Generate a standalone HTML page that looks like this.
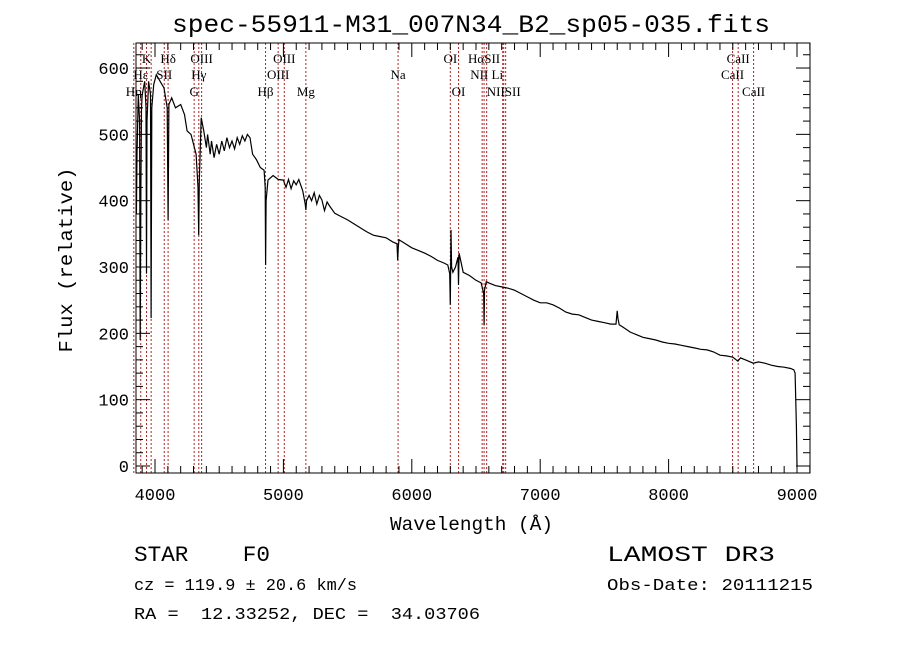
<!DOCTYPE html>
<html><head><meta charset="utf-8"><style>
html,body{margin:0;padding:0;background:#fff;}
svg{display:block;}
text{font-family:"Liberation Mono",monospace;fill:#000;white-space:pre;}
.ll{font-family:"Liberation Serif",serif;font-size:13px;}
</style></head><body>
<svg id="chart" width="900" height="649" viewBox="0 0 900 649">
<rect x="0" y="0" width="900" height="649" fill="#fff"/>
<text x="471" y="32" font-size="25" text-anchor="middle" textLength="598" lengthAdjust="spacingAndGlyphs">spec-55911-M31_007N34_B2_sp05-035.fits</text>
<g id="lines"></g>
<g id="labels"></g>
<g id="axes"></g>
<path id="spec" fill="none" stroke="#000" stroke-width="1.2"/>
<text transform="translate(72,260) rotate(-90)" font-size="19" text-anchor="middle" textLength="185" lengthAdjust="spacingAndGlyphs">Flux (relative)</text>
<text x="390" y="530" font-size="19" textLength="163" lengthAdjust="spacingAndGlyphs">Wavelength (Å)</text>
<text x="134" y="561" font-size="22" textLength="136" lengthAdjust="spacingAndGlyphs">STAR    F0</text>
<text x="134" y="590" font-size="17" textLength="223" lengthAdjust="spacingAndGlyphs">cz = 119.9 ± 20.6 km/s</text>
<text x="134" y="619" font-size="17" textLength="346" lengthAdjust="spacingAndGlyphs">RA =  12.33252, DEC =  34.03706</text>
<text x="607" y="561" font-size="22" textLength="168" lengthAdjust="spacingAndGlyphs">LAMOST DR3</text>
<text x="607" y="590" font-size="17" textLength="206" lengthAdjust="spacingAndGlyphs">Obs-Date: 20111215</text>
</svg>
<script>
const wavelengths=[3855,3860,3870,3880,3885,3890,3895,3900,3920,3930,3934,3938,3950,3965,3970,3975,3990,4010,4040,4070,4095,4102,4108,4130,4160,4200,4230,4250,4280,4320,4335,4340,4345,4360,4380,4400,4410,4430,4440,4460,4480,4500,4520,4540,4560,4580,4600,4620,4640,4660,4680,4700,4720,4740,4760,4790,4820,4850,4858,4861,4865,4880,4920,4960,5000,5020,5040,5060,5080,5100,5120,5150,5170,5175,5180,5200,5220,5240,5260,5280,5300,5320,5340,5360,5400,5450,5500,5550,5600,5650,5700,5750,5800,5850,5885,5890,5895,5900,5950,6000,6050,6100,6150,6200,6250,6280,6295,6300,6305,6310,6320,6340,6360,6364,6368,6400,6450,6500,6540,6560,6563,6566,6580,6600,6650,6700,6750,6800,6850,6900,6950,7000,7050,7100,7150,7200,7250,7300,7350,7400,7450,7500,7550,7590,7600,7606,7615,7640,7700,7750,7800,7850,7900,7950,8000,8050,8100,8150,8200,8250,8300,8350,8400,8450,8500,8540,8560,8600,8660,8700,8750,8800,8850,8900,8950,8975,8985,8995,9000];
const fluxes=[380,470,560,520,190,420,540,560,580,540,290,520,580,560,223,540,575,590,580,570,540,371,545,555,540,545,530,505,500,470,420,348,430,525,505,480,500,470,490,465,485,470,490,475,495,480,490,478,495,485,498,490,500,495,470,462,450,446,420,303,400,431,438,432,431,420,432,418,430,424,432,415,395,386,400,408,400,412,395,408,401,385,398,392,381,376,371,365,359,353,348,346,344,338,335,310,330,341,335,329,325,321,316,310,306,303,290,243,356,300,292,300,315,273,321,292,287,280,276,260,212,265,278,276,272,270,268,265,260,255,250,246,246,243,238,232,229,228,224,220,218,216,214,214,234,222,213,210,202,198,194,192,190,187,185,184,182,180,178,176,175,172,167,166,164,158,163,160,155,157,155,152,150,149,147,145,140,60,0,-5];
const lineWaves=[3835,3889,3934,3970,4102,4072,4305,4341,4363,4861,4959,5007,5175,5893,6300,6364,6548,6563,6583,6708,6716,6731,8498,8542,8662];
const labelTexts=["K","Hδ","OIII","OIII","OI","HαSII","CaII","Hε","SII","Hγ","OIII","Na","NII Li","CaII","Hη","G","Hβ","Mg","OI","NIISII","CaII"];
const labelWaves=[3934,4102,4363,5007,6300,6563,8542,3889,4072,4341,4959,5893,6583,8498,3835,4305,4861,5175,6364,6716,8662];
const labelRows=[1,1,1,1,1,1,1,2,2,2,2,2,2,2,3,3,3,3,3,3,3];
const yTicks=[0,100,200,300,400,500,600];
const xTicks=[4000,5000,6000,7000,8000,9000];
const L=136,R=810,T=43,B=473;
const xs=w=>155+(w-4000)*0.1284;
const ys=f=>466-f*0.6633;
const NS="http://www.w3.org/2000/svg";
function mk(tag,attrs,parent,txt){const e=document.createElementNS(NS,tag);for(const k in attrs)e.setAttribute(k,attrs[k]);if(txt!==undefined)e.textContent=txt;parent.appendChild(e);return e;}
const gl=document.getElementById('lines');
lineWaves.forEach(w=>{
  const l=mk('line',{x1:xs(w),x2:xs(w),y1:T,y2:B,stroke:'#b22222','stroke-width':1,'stroke-dasharray':'2,2'},gl);
  
  
});
const glab=document.getElementById('labels');
const rowY={1:63,2:79,3:96};
labelTexts.forEach((t,i)=>{
  const e=mk('text',{x:xs(labelWaves[i]),y:rowY[labelRows[i]],'text-anchor':'middle',class:'ll'},glab,t);
  
  
});
const ga=document.getElementById('axes');
const box=mk('rect',{x:L,y:T,width:R-L,height:B-T,fill:'none',stroke:'#000','stroke-width':1},ga);


for(let w=3900;w<=9100;w+=100){
  const major=w%1000===0;const len=major?14:7;const x=xs(w);
  if(x<L||x>R)continue;
  mk('line',{x1:x,x2:x,y1:B,y2:B-len,stroke:'#000'},ga);
  mk('line',{x1:x,x2:x,y1:T,y2:T+len,stroke:'#000'},ga);
}
for(let f=0;f<=620;f+=20){
  const major=f%100===0;const len=major?14:7;const y=ys(f);
  mk('line',{x1:L,x2:L+len,y1:y,y2:y,stroke:'#000'},ga);
  mk('line',{x1:R,x2:R-len,y1:y,y2:y,stroke:'#000'},ga);
}
xTicks.forEach(v=>{
  const e=mk('text',{x:xs(v),y:B+27,'text-anchor':'middle','font-size':17},ga,String(v));
  
  
});
yTicks.forEach(v=>{
  const e=mk('text',{x:L-7,y:ys(v)+6,'text-anchor':'end','font-size':17},ga,String(v));
  
  
});
let d='';
wavelengths.forEach((w,i)=>{d+=(i?'L':'M')+xs(w).toFixed(1)+','+ys(fluxes[i]).toFixed(1);});
document.getElementById('spec').setAttribute('d',d);
</script>
</body></html>
